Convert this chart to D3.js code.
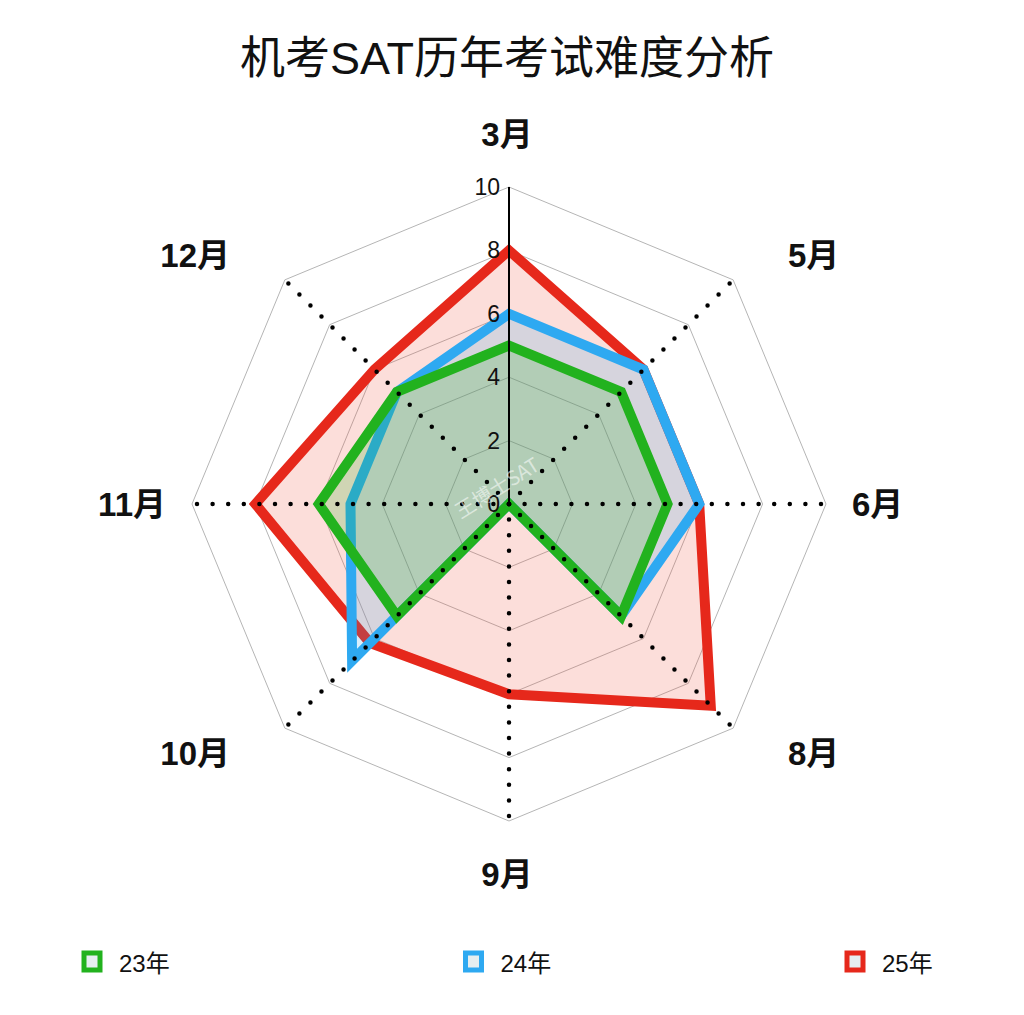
<!DOCTYPE html>
<html><head><meta charset="utf-8">
<script src="https://cdn.jsdelivr.net/npm/d3@7"></script>
<style>body{margin:0;background:#fff}svg{display:block}</style>
</head><body>
<svg id="c" width="1024" height="1015"></svg>
<script>
const months = ["3月","5月","6月","8月","9月","10月","11月","12月"];
const seriesNames = ["23年","24年","25年"];
const v23 = [5,5,5,5,0,5,6,5];
const v24 = [6,6,6,5,0,7,5,5];
const v25 = [8,6,6,9,6,6.2,8,6];
const ticks = [0,2,4,6,8,10];
const colors = ["#22b21e","#2ea9f1","#e6281b"];
const fills = ["rgba(34,178,30,0.2)","rgba(46,169,241,0.18)","rgba(240,90,70,0.2)"];

const svg = d3.select("#c");
const cx = 509, cy = 504, R = 317;
const r = d3.scaleLinear().domain([0,10]).range([0,R]);
const ang = d3.scalePoint().domain(months).range([0, 2*Math.PI*7/8]);
const pt = (m, v) => [cx + r(v)*Math.sin(ang(m)), cy - r(v)*Math.cos(ang(m))];
const latinCjk = "'Liberation Sans','Noto Sans CJK SC',sans-serif";

svg.append("text").attr("x",cx-2).attr("y",74).attr("text-anchor","middle")
  .attr("font-family",latinCjk).attr("font-size",45).attr("font-weight",400)
  .attr("fill","#111").text("机考SAT历年考试难度分析");

// grid
const grid = svg.append("g");
ticks.filter(t=>t>0).forEach(t=>{
  grid.append("polygon").attr("points", months.map(m=>pt(m,t).join(",")).join(" "))
    .attr("fill","none").attr("stroke","#b5b5b5").attr("stroke-width",1);
});

// series
const data = [v25, v24, v23];
const idx = [2,1,0];
data.forEach((vals,i)=>{
  const k = idx[i];
  svg.append("polygon").attr("points", months.map((m,j)=>pt(m,vals[j]).join(",")).join(" "))
    .attr("fill",fills[k]).attr("stroke",colors[k]).attr("stroke-width",10).attr("stroke-linejoin","miter").attr("stroke-miterlimit",10);
});

// axes
months.forEach(m=>{
  const [x,y] = pt(m,10);
  if (m === "3月") {
    svg.append("line").attr("x1",cx).attr("y1",cy).attr("x2",x).attr("y2",y).attr("stroke","#000").attr("stroke-width",2);
  } else {
    svg.append("line").attr("x1",cx).attr("y1",cy).attr("x2",x).attr("y2",y).attr("stroke","#000")
      .attr("stroke-width",4.5).attr("stroke-linecap","round").attr("stroke-dasharray","0 15.6");
  }
});

// tick labels
ticks.forEach(t=>{
  svg.append("text").attr("x",cx-9).attr("y",cy - r(t)+8).attr("text-anchor","end")
    .attr("font-family","'Liberation Sans',Arial,sans-serif").attr("font-size",23).attr("fill","#111").text(t);
});

// watermark
svg.append("text").attr("transform",`translate(${cx-8},${cy-10}) rotate(-32)`).attr("text-anchor","middle")
  .attr("font-family","'Noto Sans CJK SC',sans-serif").attr("font-size",20).attr("fill","rgba(255,255,255,0.55)").text("王博士SAT");

// month labels
months.forEach(m=>{
  const a = ang(m);
  const s = Math.sin(a), c = Math.cos(a);
  const diag = Math.abs(s) > 0.1 && Math.abs(c) > 0.1;
  let x, y, anchor;
  if (diag) {
    x = cx + 249*Math.sign(s) + 30*Math.sign(s);
    y = cy - 249*Math.sign(c) + 12;
    anchor = s > 0 ? "start" : "end";
  } else if (Math.abs(s) < 0.1) {
    x = cx - 2; y = c > 0 ? cy - 358 : cy + 382; anchor = "middle";
  } else {
    x = cx + 343*Math.sign(s); y = cy + 12; anchor = s > 0 ? "start" : "end";
  }
  svg.append("text").attr("x",x).attr("y",y).attr("text-anchor",anchor)
    .attr("font-family",latinCjk).attr("font-size",33).attr("font-weight",700)
    .attr("fill","#111").text(m);
});

// legend
const lx = d3.scalePoint().domain(seriesNames).range([92, 855]);
seriesNames.forEach((n,i)=>{
  const x = lx(n);
  svg.append("rect").attr("x",x-8).attr("y",953).attr("width",16).attr("height",17)
    .attr("fill","#e6eef0").attr("stroke",colors[i]).attr("stroke-width",5);
  svg.append("text").attr("x",x+27).attr("y",972)
    .attr("font-family",latinCjk).attr("font-size",24).attr("fill","#111").text(n);
});
</script>
</body></html>
